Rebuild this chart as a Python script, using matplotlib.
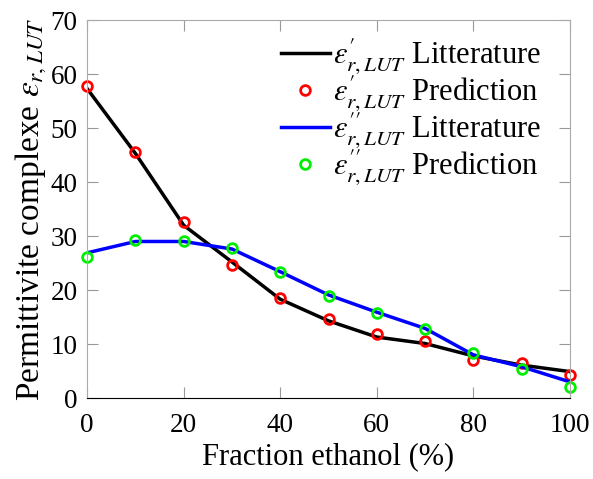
import matplotlib
matplotlib.use("Agg")
import matplotlib.pyplot as plt

plt.rcParams['font.family'] = ['Liberation Serif', 'DejaVu Serif']
plt.rcParams['mathtext.fontset'] = 'stix'

# fraction ethanol (%)
x = [0, 10, 20, 30, 40, 50, 60, 70, 80, 90, 100]

# eps' (real part)
re_lit = [57.3, 45.3, 32.0, 25.2, 18.3, 14.3, 11.3, 10.1, 7.8, 6.1, 4.9]
re_pred = [57.8, 45.5, 32.6, 24.7, 18.5, 14.6, 11.8, 10.6, 7.0, 6.4, 4.3]

# eps'' (imaginary part)
im_lit = [26.9, 29.0, 29.0, 27.6, 23.4, 19.1, 15.9, 12.9, 8.0, 5.8, 3.0]
im_pred = [26.2, 29.2, 29.1, 27.8, 23.4, 18.9, 15.7, 12.8, 8.4, 5.3, 2.1]

fig = plt.figure(figsize=(5.93, 4.79), dpi=100)
ax = fig.add_axes([0.147, 0.169, 0.814, 0.789])

ax.plot(x, re_lit, color='black', lw=2.5, label=r"$\varepsilon^{\prime}_{r,LUT}$ Litterature")
ax.plot(x, re_pred, 'o', mfc='none', mec='red', mew=2, ms=7, clip_on=False,
        label=r"$\varepsilon^{\prime}_{r,LUT}$ Prediction")
ax.plot(x, im_lit, color='blue', lw=2.5, label=r"$\varepsilon^{\prime\prime}_{r,LUT}$ Litterature")
ax.plot(x, im_pred, 'o', mfc='none', mec='#00ee00', mew=2, ms=7, clip_on=False,
        label=r"$\varepsilon^{\prime\prime}_{r,LUT}$ Prediction")

ax.set_xlim(0, 100)
ax.set_ylim(0, 70)
ax.set_xticks(range(0, 101, 20))
ax.set_yticks(range(0, 71, 10))
ax.tick_params(direction='in', length=8, labelsize=19.5, top=True, right=True,
               color='#999999', pad=7)
ax.tick_params(axis='x', pad=11)
for s in ['left', 'top', 'right']:
    ax.spines[s].set_color('#aaaaaa')
ax.spines['bottom'].set_color('black')

ax.set_xlabel('Fraction ethanol (%)', fontsize=22, labelpad=3)
ax.set_ylabel(r'Permittivite complexe $\varepsilon_{r,LUT}$', fontsize=24, labelpad=1)

ax.legend(loc='upper right', frameon=False, fontsize=22, handlelength=1.6,
          handletextpad=0.1, labelspacing=-0.1, borderaxespad=0.15,
          bbox_to_anchor=(0.975, 1.0))

fig.savefig('out.png', dpi=100)
